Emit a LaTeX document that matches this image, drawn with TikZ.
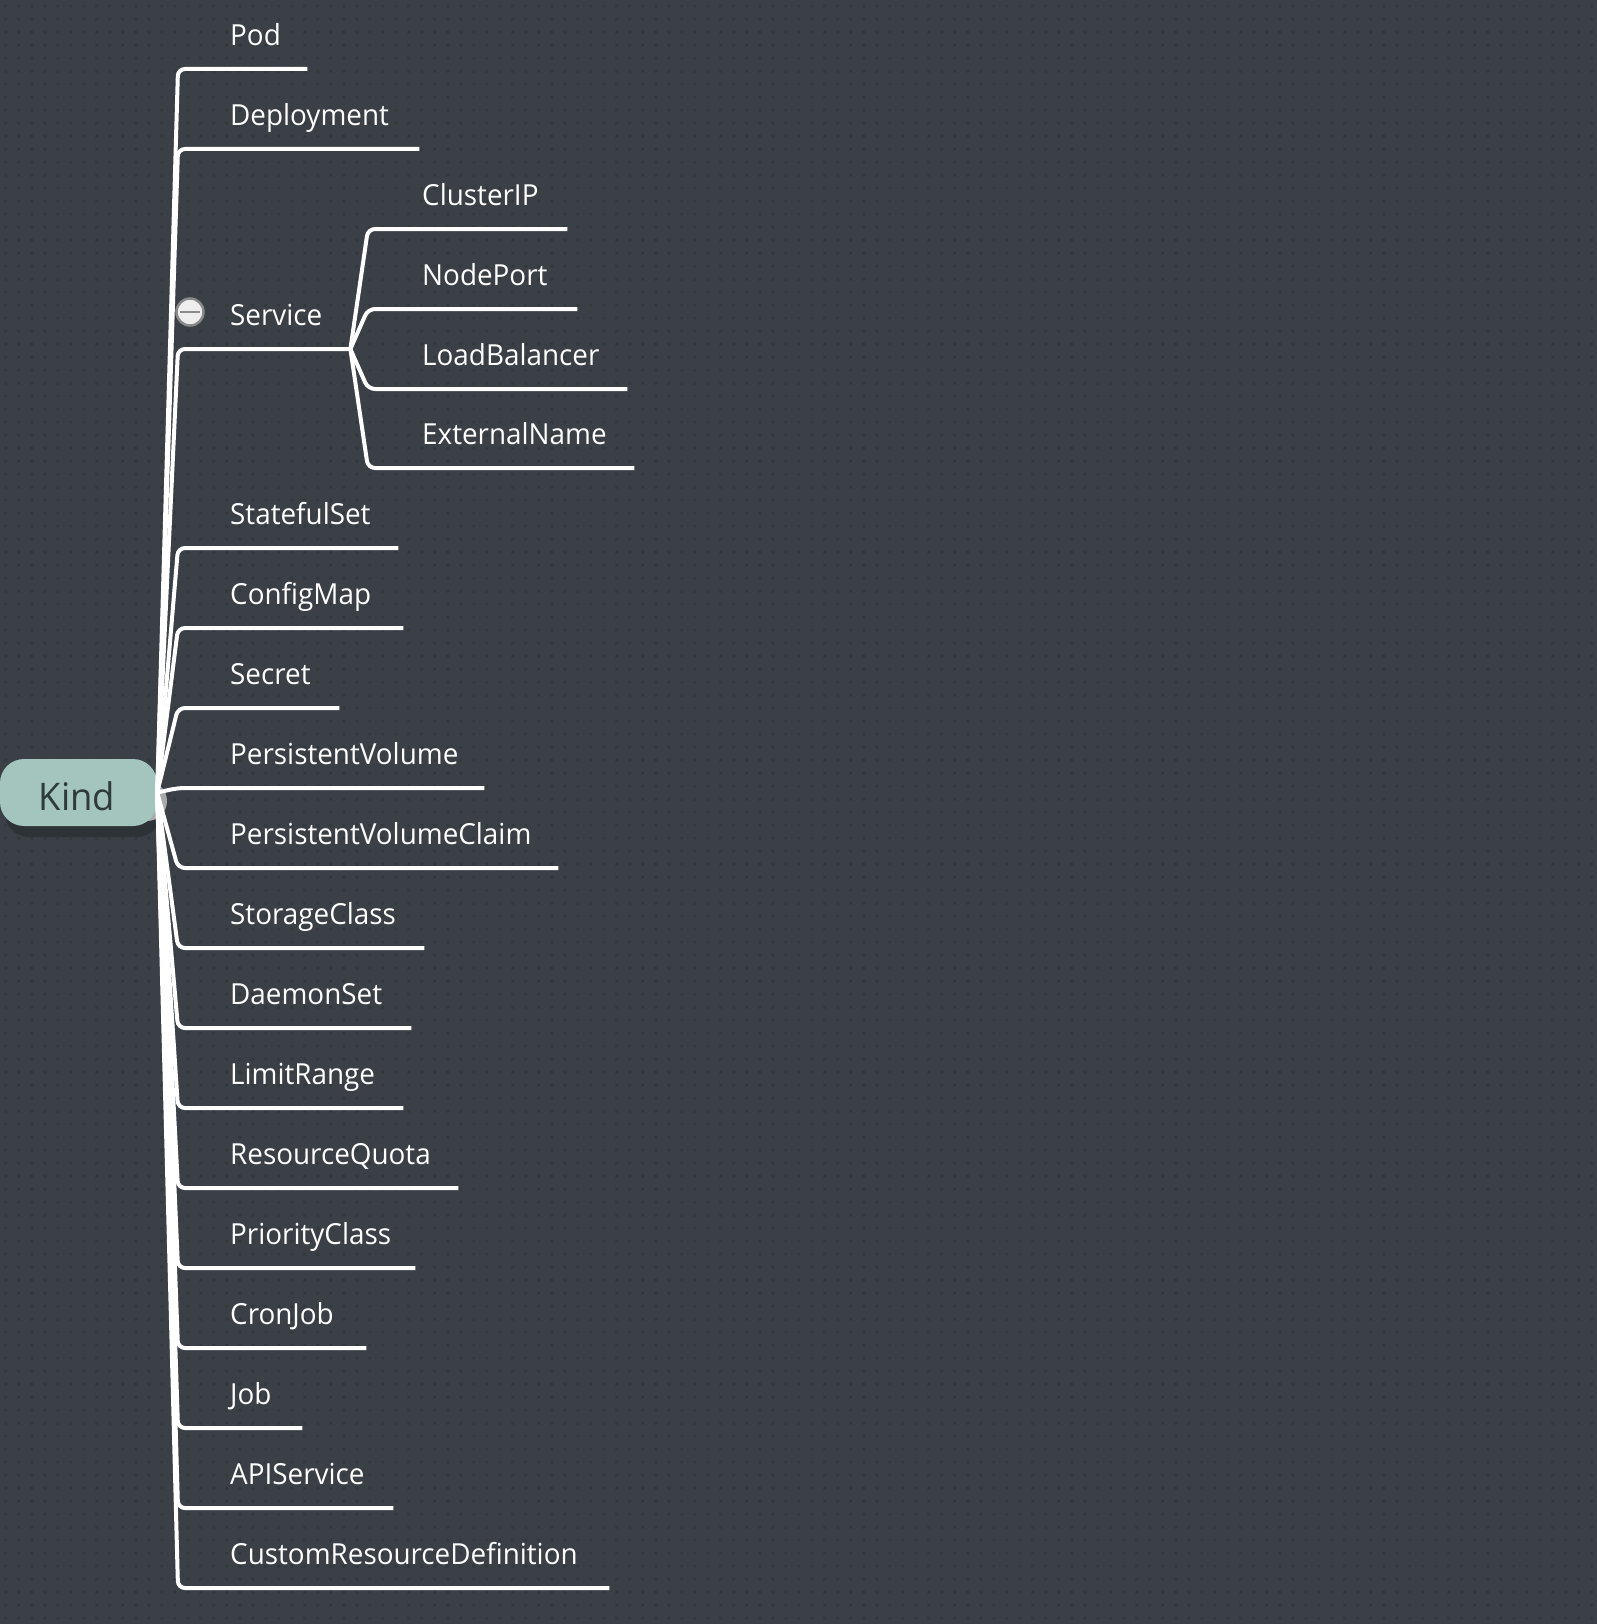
\documentclass[tikz,border=0pt]{standalone}
\usepackage{fontspec}
\setmainfont{Open Sans}[FakeStretch=0.96]
\usetikzlibrary{patterns.meta}
\definecolor{bgc}{HTML}{3A4045}
\definecolor{dotc}{HTML}{33383C}
\definecolor{kindfill}{HTML}{A4C4BE}
\definecolor{kindtext}{HTML}{2F3A3A}
\definecolor{shadowc}{HTML}{2D3236}
\definecolor{knob}{HTML}{A8AAAC}
\definecolor{btnfill}{HTML}{EEEEEE}
\definecolor{btnline}{HTML}{8A8A8A}
\tikzdeclarepattern{
  name=bgdots,
  type=uncolored,
  bounding box={(0pt,0pt) and (12.5pt,12.5pt)},
  tile size={(12.5pt,12.5pt)},
  code={\fill (4.5pt,4.5pt) rectangle (7.5pt,7.5pt);}
}
\newcommand\lbm[2]{\makebox[#1pt][l]{\hspace*{52pt}#2}}
\newcommand\lbc[2]{\makebox[#1pt][l]{\hspace*{54pt}#2}}
\begin{document}
\begin{tikzpicture}[x=1pt,y=-1pt,
  branch/.style={draw=white, line width=4pt, rounded corners=7pt},
  leaf/.style={anchor=south west, inner sep=0pt, text depth=23pt, text=white,
    font=\fontsize{29}{34}\selectfont},
  kindbox/.style={rounded corners=24pt, fill=kindfill, minimum width=157pt,
    minimum height=67pt, inner sep=0pt, text=kindtext, font=\fontsize{38}{44}\selectfont},
  btn/.style={circle, fill=btnfill, draw=btnline, line width=2.5pt, minimum size=27pt,
    inner sep=0pt,
    path picture={\draw[btnline, line width=2.5pt]
      ([xshift=-10pt]path picture bounding box.center) --
      ([xshift=10pt]path picture bounding box.center);}}
]
\fill[bgc] (0,0) rectangle (1597,1624);
\fill[pattern=bgdots, pattern color=dotc] (0,0) rectangle (1597,1624);
\useasboundingbox (0,0) rectangle (1597,1624);

% root
\fill[shadowc, rounded corners=24pt] (5,770) rectangle (161,837);
\fill[knob] (147,801) circle (20);
\node[kindbox] (kind) at (78.5,792.5) {\raisebox{-17.5pt}[0pt][0pt]{\hspace*{-3pt}Kind}};

% first level
\node[leaf] (pod) at (178,69)   {\lbm{129}{Pod}};
\node[leaf] (dep) at (178,149)  {\lbm{241}{Deployment}};
\node[leaf] (svc) at (178,349)  {\lbm{172}{Service}};
\node[leaf] (sts) at (178,548)  {\lbm{220}{StatefulSet}};
\node[leaf] (cm)  at (178,628)  {\lbm{225}{ConfigMap}};
\node[leaf] (sec) at (178,708)  {\lbm{161}{Secret}};
\node[leaf] (pv)  at (178,788)  {\lbm{306}{PersistentVolume}};
\node[leaf] (pvc) at (178,868)  {\lbm{380}{PersistentVolumeClaim}};
\node[leaf] (sc)  at (178,948)  {\lbm{246}{StorageClass}};
\node[leaf] (ds)  at (178,1028) {\lbm{233}{DaemonSet}};
\node[leaf] (lr)  at (178,1108) {\lbm{225}{LimitRange}};
\node[leaf] (rq)  at (178,1188) {\lbm{280}{ResourceQuota}};
\node[leaf] (pc)  at (178,1268) {\lbm{237}{PriorityClass}};
\node[leaf] (cj)  at (178,1348) {\lbm{188}{CronJob}};
\node[leaf] (job) at (178,1428) {\lbm{124}{Job}};
\node[leaf] (api) at (178,1508) {\lbm{215}{APIService}};
\node[leaf] (crd) at (178,1588) {\lbm{431}{CustomResourceDefinition}};

% service children
\node[leaf] (cip) at (368,229) {\lbc{199}{ClusterIP}};
\node[leaf] (np)  at (368,309) {\lbc{209}{NodePort}};
\node[leaf] (lb)  at (368,389) {\lbc{259}{LoadBalancer}};
\node[leaf] (en)  at (368,468) {\lbc{266}{ExternalName}};

\foreach \n in {pod,dep,svc,sts,cm,sec,pv,pvc,sc,ds,lr,rq,pc,cj,job,api,crd}
  \draw[branch] (kind.east) -- (\n.south west) -- (\n.south east);
\foreach \n in {cip,np,lb,en}
  \draw[branch] (svc.south east) -- (\n.south west) -- (\n.south east);

\node[btn] (svcbtn) at (190,312) {};
\end{tikzpicture}
\end{document}
